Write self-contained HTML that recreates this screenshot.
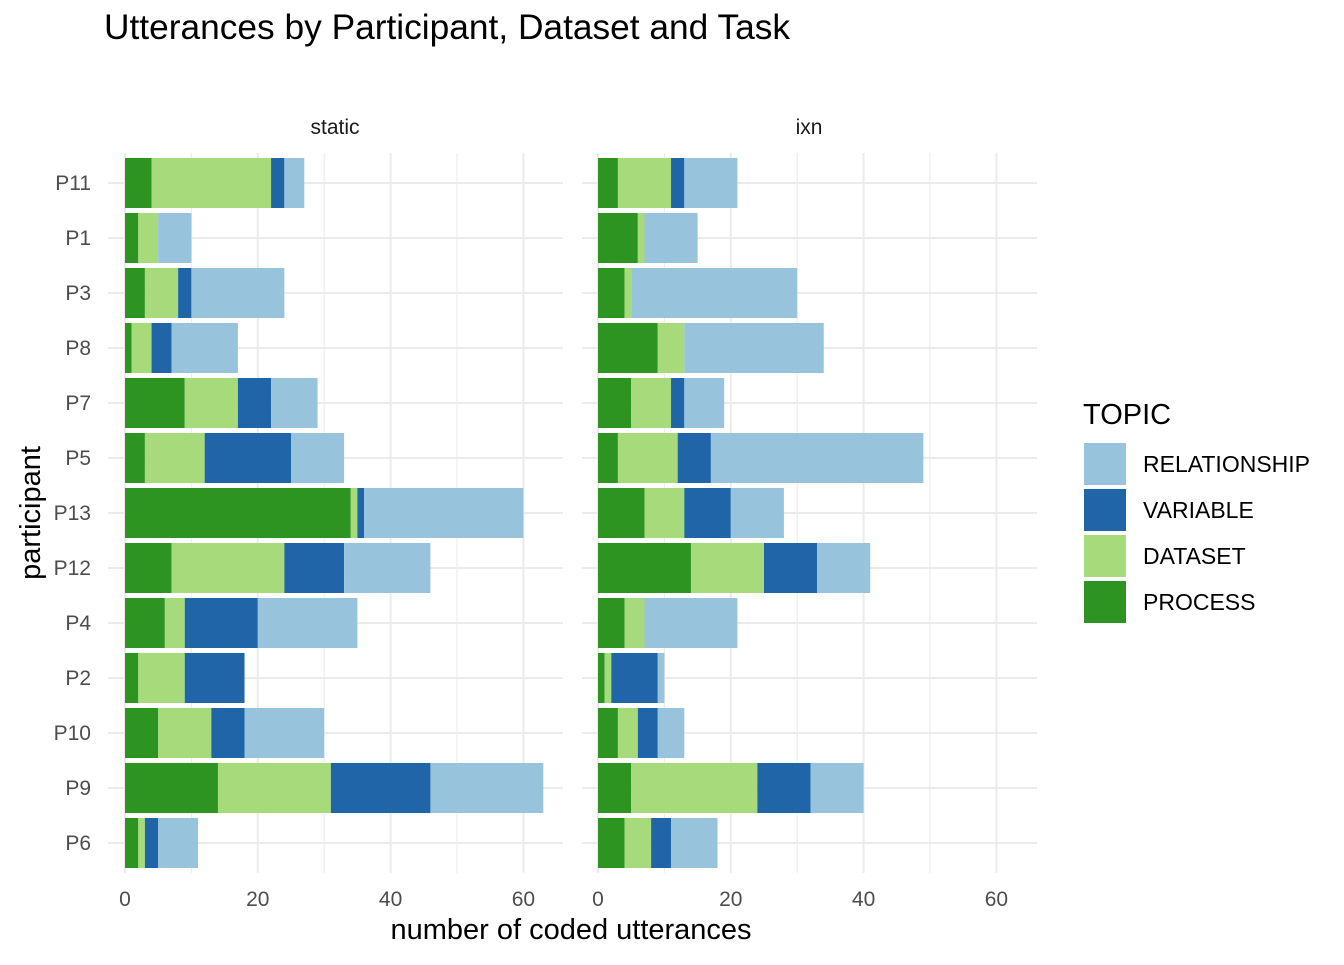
<!DOCTYPE html>
<html><head><meta charset="utf-8"><style>
body{margin:0;background:#fff;}
svg text{font-family:"Liberation Sans",Arial,sans-serif;}
</style></head><body>
<svg id="c" width="1344" height="960" xmlns="http://www.w3.org/2000/svg">
<text x="104" y="39" font-size="35.3" fill="#000">Utterances by Participant, Dataset and Task</text>
<text x="335" y="134" font-size="21" fill="#1a1a1a" text-anchor="middle">static</text>
<text x="809" y="134" font-size="21" fill="#1a1a1a" text-anchor="middle">ixn</text>
<text x="571" y="939" font-size="29" fill="#000" text-anchor="middle">number of coded utterances</text>
<text transform="translate(40,513) rotate(-90)" font-size="29" fill="#000" text-anchor="middle">participant</text>
<g id="legend">
<text x="1083" y="424" font-size="29" fill="#000">TOPIC</text>
</g>
</svg>
<script>
const participants=["P11","P1","P3","P8","P7","P5","P13","P12","P4","P2","P10","P9","P6"];
const topics=["PROCESS","DATASET","VARIABLE","RELATIONSHIP"];
const colors={PROCESS:"#2e9421",DATASET:"#a6da7a",VARIABLE:"#1f65a8",RELATIONSHIP:"#97c3dc"};
const xTicks=[0,20,40,60];
// static panel
const staticProcess=[4,2,3,1,9,3,34,7,6,2,5,14,2];
const staticDataset=[18,3,5,3,8,9,1,17,3,7,8,17,1];
const staticVariable=[2,0,2,3,5,13,1,9,11,9,5,15,2];
const staticRelationship=[3,5,14,10,7,8,24,13,15,0,12,17,6];
// ixn panel
const ixnProcess=[3,6,4,9,5,3,7,14,4,1,3,5,4];
const ixnDataset=[8,1,1,4,6,9,6,11,3,1,3,19,4];
const ixnVariable=[2,0,0,0,2,5,7,8,0,7,3,8,3];
const ixnRelationship=[8,8,25,21,6,32,8,8,14,1,4,8,7];

const svg=document.getElementById('c');
const NS="http://www.w3.org/2000/svg";
function mk(t,a){const e=document.createElementNS(NS,t);for(const k in a)e.setAttribute(k,a[k]);return e;}
const pxPerUnit=6.64;
const panels=[{name:"static",x0:125,left:108,right:563,data:[staticProcess,staticDataset,staticVariable,staticRelationship]},
{name:"ixn",x0:598,left:582,right:1037,data:[ixnProcess,ixnDataset,ixnVariable,ixnRelationship]}];
const panelTop=153,panelBottom=873,rowStep=55,firstRow=183,barH=50;
function yPos(i){return firstRow+i*rowStep;}
panels.forEach(p=>{
  const X=v=>p.x0+v*pxPerUnit;
  const g=mk('g',{});
  
  
  svg.appendChild(g);
  for(let v=0;v<=60;v+=10){
    const l=mk('line',{x1:X(v),x2:X(v),y1:panelTop,y2:panelBottom,stroke:"#ebebeb","stroke-width":v%20===0?2:1});
    
    
    g.appendChild(l);
  }
  participants.forEach((pp,i)=>{
    const l=mk('line',{x1:p.left,x2:p.right,y1:yPos(i),y2:yPos(i),stroke:"#ebebeb","stroke-width":2});
    
    
    g.appendChild(l);
  });
  participants.forEach((pp,i)=>{
    let cum=0;
    topics.forEach((t,k)=>{
      const v=p.data[k][i];
      if(v>0){
        const r=mk('rect',{x:X(cum),y:yPos(i)-barH/2,width:v*pxPerUnit,height:barH,fill:colors[t]});
        
        
        g.appendChild(r);
      }
      cum+=v;
    });
  });
  xTicks.forEach(v=>{
    const t=mk('text',{x:X(v),y:906,"font-size":21,fill:"#4d4d4d","text-anchor":"middle"});
    
    
    t.textContent=v;g.appendChild(t);
  });
});
participants.forEach((pp,i)=>{
  const t=mk('text',{x:91,y:yPos(i)+7,"font-size":21,fill:"#4d4d4d","text-anchor":"end"});
  
  
  t.textContent=pp;svg.appendChild(t);
});
const lg=document.getElementById('legend');
["RELATIONSHIP","VARIABLE","DATASET","PROCESS"].forEach((t,i)=>{
  const y=443+i*46;
  const r=mk('rect',{x:1084,y:y,width:42,height:42,fill:colors[t]});
  
  
  lg.appendChild(r);
  const tx=mk('text',{x:1143,y:y+29,"font-size":23,fill:"#000"});
  
  
  tx.textContent=t;lg.appendChild(tx);
});
</script>
</body></html>
